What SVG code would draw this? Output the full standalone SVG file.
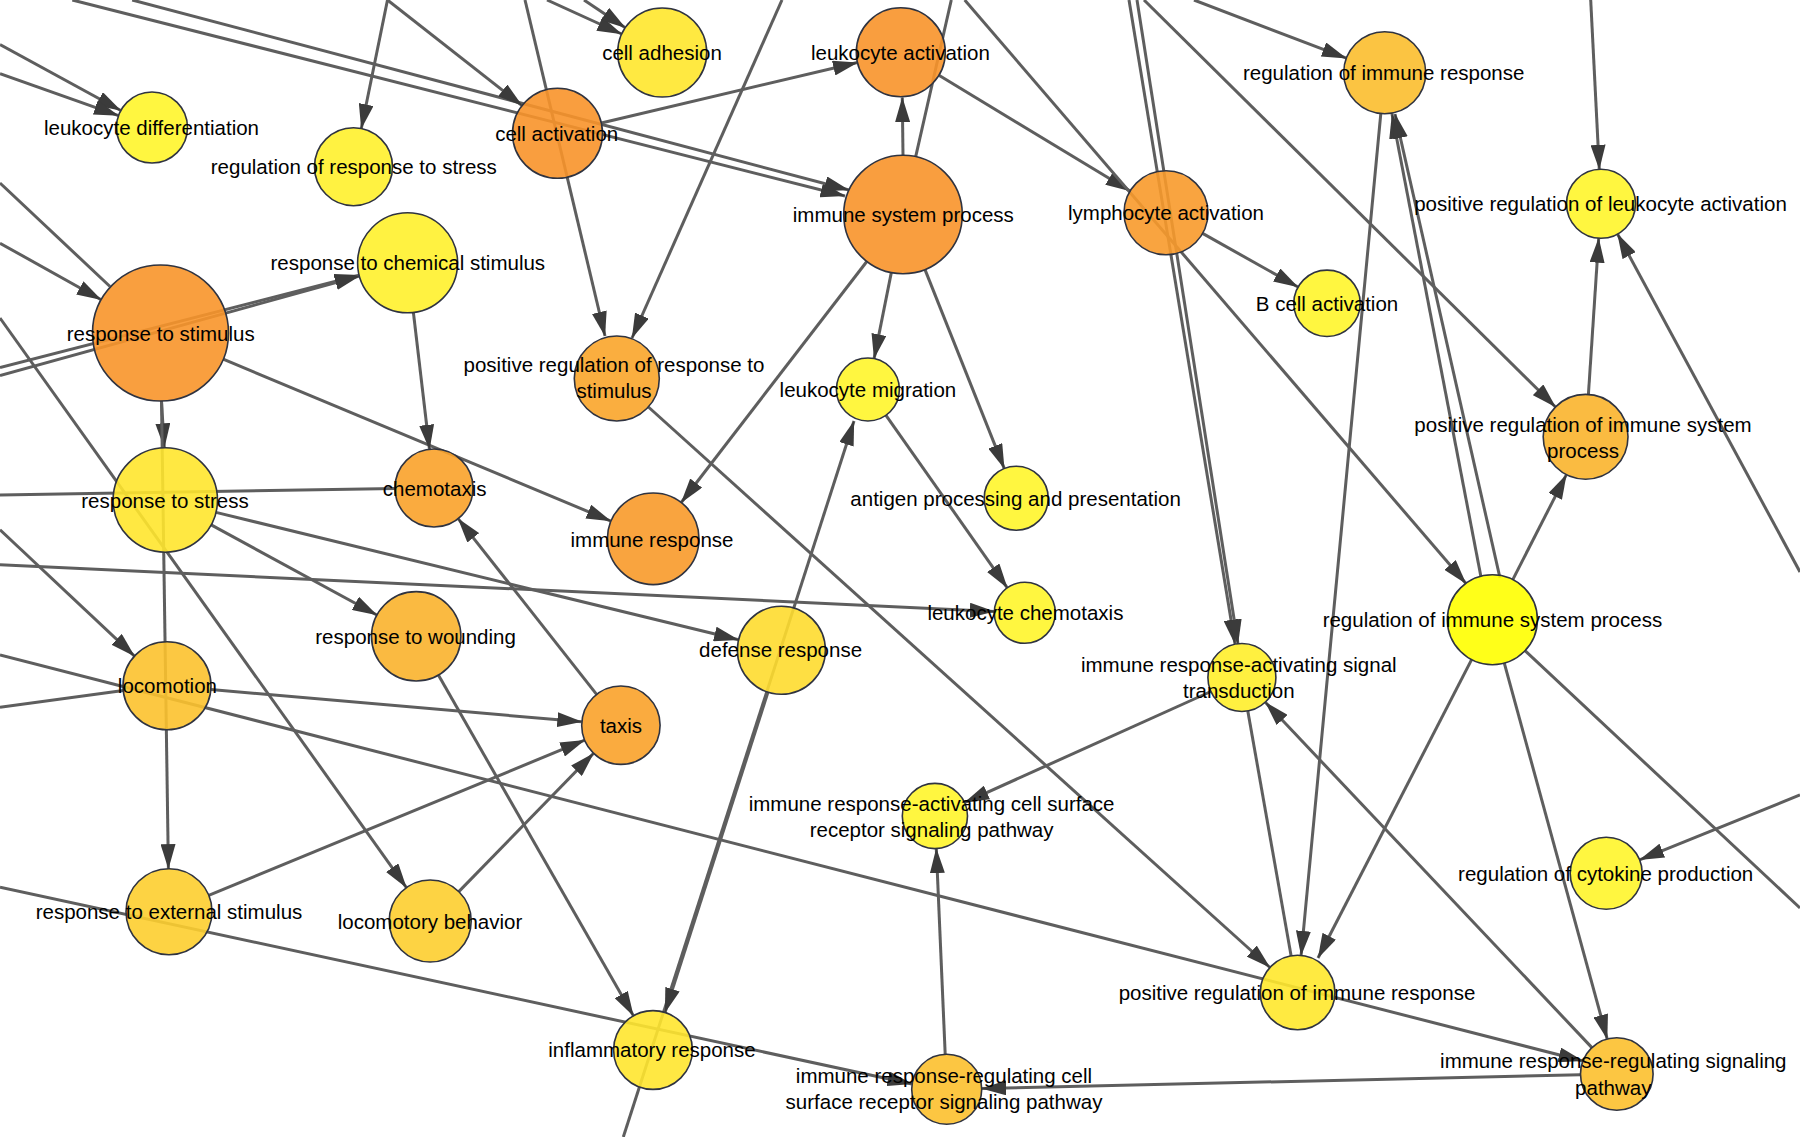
<svg xmlns="http://www.w3.org/2000/svg" width="1800" height="1137" viewBox="0 0 1800 1137">
<style>
.e{stroke:#5e5e5e;stroke-width:3;fill:none}
.a{marker-end:url(#arr)}
.n{stroke:#2f3340;stroke-width:1.6;fill-opacity:0.9}
text{font-family:"Liberation Sans",Arial,sans-serif;font-size:20.5px;fill:#000;text-anchor:middle}
</style>
<defs>
<marker id="arr" markerUnits="userSpaceOnUse" markerWidth="25" markerHeight="15" refX="24.5" refY="7.5" orient="auto">
<path d="M0,0 L25,7.5 L0,15 z" fill="#3b3b3b"/>
</marker>
</defs>
<rect width="1800" height="1137" fill="#fff"/>
<g id="connectors">
<line class="e a" x1="0" y1="44.6" x2="120.8" y2="110.5"/>
<line class="e a" x1="0" y1="73.7" x2="118.5" y2="115.6"/>
<line class="e a" x1="72.3" y1="0" x2="845" y2="196"/>
<line class="e a" x1="132.2" y1="0" x2="849" y2="190"/>
<line class="e a" x1="387.5" y1="0" x2="361.3" y2="128.5"/>
<line class="e a" x1="387.5" y1="0" x2="522" y2="105.5"/>
<line class="e a" x1="525" y1="0" x2="605" y2="336"/>
<line class="e a" x1="547" y1="0" x2="621.7" y2="34"/>
<line class="e a" x1="584" y1="0" x2="625.3" y2="27.7"/>
<line class="e a" x1="601.3" y1="123" x2="857.5" y2="62.5"/>
<line class="e a" x1="782" y1="0" x2="632" y2="338"/>
<line class="e a" x1="903" y1="155.2" x2="902.3" y2="97.5"/>
<line class="e" x1="951.3" y1="0" x2="915.7" y2="156.7"/>
<line class="e a" x1="938.9" y1="75.3" x2="1130.1" y2="191"/>
<line class="e a" x1="964.7" y1="0" x2="1466" y2="583.5"/>
<line class="e a" x1="1202.6" y1="233.4" x2="1298" y2="287"/>
<line class="e a" x1="1129" y1="0" x2="1235" y2="644"/>
<line class="e a" x1="1137" y1="0" x2="1238" y2="644"/>
<line class="e a" x1="1194" y1="0" x2="1346.4" y2="58.2"/>
<line class="e a" x1="1144" y1="0" x2="1555.5" y2="407"/>
<line class="e a" x1="1481" y1="577" x2="1392" y2="114"/>
<line class="e a" x1="1500" y1="578" x2="1395" y2="114"/>
<line class="e a" x1="1380.8" y1="113.6" x2="1301.1" y2="955.4"/>
<line class="e a" x1="1512.8" y1="579.6" x2="1566.4" y2="474.6"/>
<line class="e a" x1="1588.4" y1="394.5" x2="1598.7" y2="238.2"/>
<line class="e a" x1="1590.7" y1="0" x2="1599.3" y2="169.3"/>
<line class="e a" x1="1800" y1="572" x2="1617.5" y2="234"/>
<line class="e a" x1="1471.6" y1="659.6" x2="1318" y2="958"/>
<line class="e a" x1="1504.3" y1="663.1" x2="1607.2" y2="1039"/>
<line class="e" x1="1525" y1="650.7" x2="1800" y2="908"/>
<line class="e a" x1="1800" y1="795" x2="1639.6" y2="859.8"/>
<line class="e a" x1="648.4" y1="407" x2="1269.9" y2="967.5"/>
<line class="e a" x1="1591.9" y1="1047.6" x2="1265.3" y2="702.2"/>
<line class="e" x1="1247.8" y1="711" x2="1291.1" y2="955.8"/>
<line class="e a" x1="1210.9" y1="691.5" x2="964.6" y2="802.6"/>
<line class="e a" x1="945.2" y1="1054.3" x2="936.3" y2="848.6"/>
<line class="e a" x1="1580.5" y1="1074.8" x2="981.7" y2="1088.5"/>
<line class="e a" x1="0" y1="887.2" x2="912" y2="1084"/>
<line class="e a" x1="0" y1="655" x2="1583" y2="1061"/>
<line class="e a" x1="0" y1="243.2" x2="101.2" y2="299.8"/>
<line class="e" x1="0" y1="183" x2="110" y2="286.5"/>
<line class="e a" x1="0" y1="367.5" x2="359.2" y2="275.2"/>
<line class="e a" x1="0" y1="375.5" x2="359.4" y2="276.1"/>
<line class="e a" x1="0" y1="318" x2="406.4" y2="887.6"/>
<line class="e a" x1="161.5" y1="401" x2="164.3" y2="447.8"/>
<line class="e a" x1="161.5" y1="401" x2="168.4" y2="868.7"/>
<line class="e a" x1="223.2" y1="359.2" x2="610.9" y2="521.1"/>
<line class="e a" x1="413.4" y1="312.5" x2="429.5" y2="449.3"/>
<line class="e" x1="0" y1="495" x2="395.5" y2="488.5"/>
<line class="e a" x1="0" y1="529.8" x2="134.5" y2="656.1"/>
<line class="e a" x1="0" y1="564.8" x2="994.3" y2="611.4"/>
<line class="e" x1="0" y1="707.2" x2="123.3" y2="690.5"/>
<line class="e a" x1="211.2" y1="524.9" x2="376.9" y2="615"/>
<line class="e a" x1="216" y1="512.4" x2="738.6" y2="639.8"/>
<line class="e a" x1="596.6" y1="694.4" x2="458.1" y2="518.6"/>
<line class="e a" x1="210.8" y1="689.6" x2="581.8" y2="721.8"/>
<line class="e a" x1="208.7" y1="895.3" x2="584.7" y2="740.2"/>
<line class="e a" x1="458.8" y1="891.6" x2="593.6" y2="753.3"/>
<line class="e a" x1="438.4" y1="675.1" x2="633.4" y2="1015.8"/>
<line class="e a" x1="623.3" y1="1137" x2="854" y2="421"/>
<line class="e a" x1="768" y1="692.1" x2="665" y2="1012.5"/>
<line class="e a" x1="891.3" y1="272.6" x2="874.1" y2="358.6"/>
<line class="e a" x1="925" y1="269.6" x2="1004.3" y2="468.6"/>
<line class="e a" x1="866.8" y1="261.5" x2="681.2" y2="502.5"/>
<line class="e a" x1="886" y1="415.3" x2="1007.3" y2="587.8"/>
</g>
<g id="n-leukocyte-differentiation"><circle class="n" cx="152" cy="127.5" r="35.5" fill="#FFF52B"/><text x="151.5" y="135">leukocyte differentiation</text></g>
<g id="n-regulation-of-response-to-stress"><circle class="n" cx="353.5" cy="166.7" r="39" fill="#FFF12C"/><text x="353.8" y="174">regulation of response to stress</text></g>
<g id="n-cell-activation"><circle class="n" cx="557.5" cy="133.3" r="45" fill="#F8942A"/><text x="556.7" y="140.5">cell activation</text></g>
<g id="n-cell-adhesion"><circle class="n" cx="662.2" cy="52.5" r="44.5" fill="#FFE72C"/><text x="662" y="60">cell adhesion</text></g>
<g id="n-leukocyte-activation"><circle class="n" cx="900.8" cy="52.3" r="44.5" fill="#F8942A"/><text x="900.4" y="60">leukocyte activation</text></g>
<g id="n-immune-system-process"><circle class="n" cx="903" cy="214.5" r="59.3" fill="#F8942A"/><text x="903.3" y="221.7">immune system process</text></g>
<g id="n-lymphocyte-activation"><circle class="n" cx="1166" cy="212.8" r="42" fill="#F89A2B"/><text x="1166" y="220">lymphocyte activation</text></g>
<g id="n-regulation-of-immune-response"><circle class="n" cx="1384.7" cy="72.8" r="41" fill="#FBBE2E"/><text x="1383.7" y="80">regulation of immune response</text></g>
<g id="n-positive-regulation-of-leukocyte-activation"><circle class="n" cx="1601" cy="203.8" r="34.5" fill="#FFF52B"/><text x="1600.5" y="210.7">positive regulation of leukocyte activation</text></g>
<g id="n-b-cell-activation"><circle class="n" cx="1327" cy="303.3" r="33.2" fill="#FFF52B"/><text x="1327" y="311.2">B cell activation</text></g>
<g id="n-response-to-stimulus"><circle class="n" cx="160.5" cy="333" r="68" fill="#F8952A"/><text x="160.7" y="340.5">response to stimulus</text></g>
<g id="n-response-to-chemical-stimulus"><circle class="n" cx="407.6" cy="262.8" r="50" fill="#FFF12C"/><text x="407.8" y="270">response to chemical stimulus</text></g>
<g id="n-positive-regulation-of-response-to-stimulus"><circle class="n" cx="616.8" cy="378.5" r="42.5" fill="#F9A52A"/><text x="614" y="372">positive regulation of response to<tspan x="614" dy="26">stimulus</tspan></text></g>
<g id="n-leukocyte-migration"><circle class="n" cx="867.9" cy="389.5" r="31.5" fill="#FFF52B"/><text x="867.9" y="396.7">leukocyte migration</text></g>
<g id="n-response-to-stress"><circle class="n" cx="165.3" cy="500" r="52.2" fill="#FFE52E"/><text x="165" y="507.5">response to stress</text></g>
<g id="n-chemotaxis"><circle class="n" cx="434" cy="488" r="39" fill="#F9A22A"/><text x="434.6" y="495.5">chemotaxis</text></g>
<g id="n-immune-response"><circle class="n" cx="653.2" cy="538.8" r="45.8" fill="#F89A2A"/><text x="652" y="546.5">immune response</text></g>
<g id="n-antigen-processing-and-presentation"><circle class="n" cx="1016.2" cy="498.3" r="32" fill="#FFF52B"/><text x="1015.6" y="505.8">antigen processing and presentation</text></g>
<g id="n-leukocyte-chemotaxis"><circle class="n" cx="1024.8" cy="612.8" r="30.5" fill="#FFF52B"/><text x="1025.4" y="619.5">leukocyte chemotaxis</text></g>
<g id="n-positive-regulation-of-immune-system-process"><circle class="n" cx="1585.6" cy="436.8" r="42.4" fill="#FAB42C"/><text x="1583" y="431.7">positive regulation of immune system<tspan x="1583" dy="25.8">process</tspan></text></g>
<g id="n-regulation-of-immune-system-process"><circle class="n" cx="1492.4" cy="619.7" r="45" fill="#FFFF00"/><text x="1492.4" y="626.7">regulation of immune system process</text></g>
<g id="n-response-to-wounding"><circle class="n" cx="416.2" cy="636.3" r="44.7" fill="#FAB22C"/><text x="415.6" y="644">response to wounding</text></g>
<g id="n-defense-response"><circle class="n" cx="781.4" cy="650.2" r="44" fill="#FEDB2F"/><text x="780.6" y="657">defense response</text></g>
<g id="n-immune-response-activating-signal-transduction"><circle class="n" cx="1241.9" cy="677.5" r="34" fill="#FFEE2B"/><text x="1238.8" y="671.7">immune response-activating signal<tspan x="1238.8" dy="26.6">transduction</tspan></text></g>
<g id="n-locomotion"><circle class="n" cx="167" cy="685.8" r="44" fill="#FCC22E"/><text x="167.4" y="693.3">locomotion</text></g>
<g id="n-taxis"><circle class="n" cx="620.9" cy="725.2" r="39.2" fill="#F9A22A"/><text x="621" y="732.5">taxis</text></g>
<g id="n-immune-response-activating-cell-surface-receptor-signaling-pathway"><circle class="n" cx="934.9" cy="816" r="32.6" fill="#FFF52B"/><text x="931.6" y="810.7">immune response-activating cell surface<tspan x="931.6" dy="26">receptor signaling pathway</tspan></text></g>
<g id="n-response-to-external-stimulus"><circle class="n" cx="169" cy="911.7" r="43" fill="#FDCE2F"/><text x="169" y="919.3">response to external stimulus</text></g>
<g id="n-locomotory-behavior"><circle class="n" cx="430.2" cy="921" r="41" fill="#FDCE2F"/><text x="430" y="928.8">locomotory behavior</text></g>
<g id="n-regulation-of-cytokine-production"><circle class="n" cx="1606.2" cy="873.3" r="36" fill="#FFF52B"/><text x="1605.7" y="880.7">regulation of cytokine production</text></g>
<g id="n-positive-regulation-of-immune-response"><circle class="n" cx="1297.6" cy="992.5" r="37.3" fill="#FFE82C"/><text x="1297" y="999.5">positive regulation of immune response</text></g>
<g id="n-inflammatory-response"><circle class="n" cx="653" cy="1050" r="39.4" fill="#FFE62F"/><text x="652" y="1057">inflammatory response</text></g>
<g id="n-immune-response-regulating-cell-surface-receptor-signaling-pathway"><circle class="n" cx="946.7" cy="1089.3" r="35" fill="#FCC02E"/><text x="944" y="1082.7">immune response-regulating cell<tspan x="944" dy="26.6">surface receptor signaling pathway</tspan></text></g>
<g id="n-immune-response-regulating-signaling-pathway"><circle class="n" cx="1616.8" cy="1074" r="36.3" fill="#FCC02E"/><text x="1613.3" y="1068.3">immune response-regulating signaling<tspan x="1613.3" dy="26.7">pathway</tspan></text></g>
</svg>
